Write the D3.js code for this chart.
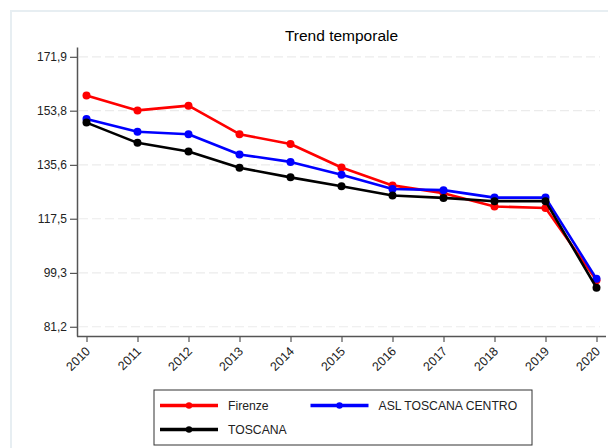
<!DOCTYPE html>
<html>
<head>
<meta charset="utf-8">
<script src="https://cdn.jsdelivr.net/npm/d3@7/dist/d3.min.js"></script>
<style>
  html, body { margin: 0; padding: 0; background: #fff; }
  svg { display: block; font-family: "Liberation Sans", Arial, sans-serif; }
</style>
</head>
<body>
<svg id="chart" width="608" height="448"></svg>
<script>
const years = ["2010","2011","2012","2013","2014","2015","2016","2017","2018","2019","2020"];
const firenze = [158.9, 153.9, 155.5, 145.9, 142.6, 134.7, 128.7, 126.1, 121.6, 121.1, 96.8];
const aslCentro = [151.0, 146.7, 145.9, 139.1, 136.6, 132.3, 127.5, 127.1, 124.6, 124.6, 97.3];
const toscana = [149.8, 143.0, 140.1, 134.6, 131.4, 128.4, 125.3, 124.5, 123.4, 123.4, 94.3];
const yTicks = [81.2, 99.3, 117.5, 135.6, 153.8, 171.9];
const seriesNames = ["Firenze", "ASL TOSCANA CENTRO", "TOSCANA"];
const seriesColors = ["#ff0000", "#0000ff", "#000000"];
const title = "Trend temporale";

const svg = d3.select("#chart");

// outer frame
svg.append("rect")
  .attr("x", 11).attr("y", 11).attr("width", 700).attr("height", 600)
  .attr("fill", "none").attr("stroke", "#e7eef2").attr("stroke-width", 2);

const pLeft = 77, pRight = 606, pTop = 47, pBottom = 336;
const x = d3.scalePoint().domain(years).range([86.5, 596.5]);
const y = d3.scaleLinear().domain([78.1, 175.2]).range([pBottom, pTop]);

// gridlines
svg.append("g").selectAll("line").data(yTicks).join("line")
  .attr("x1", pLeft + 2).attr("x2", 600)
  .attr("y1", d => y(d)).attr("y2", d => y(d))
  .attr("stroke", "#ebebeb").attr("stroke-width", 1.2)
  .attr("stroke-dasharray", "9,4");

// title
svg.append("text")
  .attr("x", (pLeft + pRight) / 2).attr("y", 41)
  .attr("text-anchor", "middle")
  .attr("font-size", 15.5).attr("fill", "#000")
  .text(title);

// y axis
const yAxis = d3.axisLeft(y).tickValues(yTicks).tickSize(7).tickSizeOuter(0)
  .tickFormat(d => d3.format(".1f")(d).replace(".", ","));
const gy = svg.append("g").attr("transform", `translate(${pLeft},0)`).call(yAxis);
gy.select(".domain").attr("stroke", "#555").attr("stroke-width", 1.5);
gy.selectAll(".tick line").attr("stroke", "#555").attr("stroke-width", 1.2);
gy.selectAll(".tick text").attr("font-size", 12).attr("fill", "#222")
  .attr("font-family", "'Liberation Sans', Arial, sans-serif").attr("x", -10);

// x axis
const xAxis = d3.axisBottom(x).tickSize(6).tickSizeOuter(0);
const gx = svg.append("g").attr("transform", `translate(0,${pBottom})`).call(xAxis);
gx.select(".domain").attr("d", `M${pLeft},0.5H${pRight}`).attr("stroke", "#555").attr("stroke-width", 1.5);
gx.selectAll(".tick line").attr("stroke", "#555").attr("stroke-width", 1.2);
gx.selectAll(".tick text")
  .attr("font-size", 12.5).attr("fill", "#222")
  .attr("font-family", "'Liberation Sans', Arial, sans-serif")
  .attr("text-anchor", "end")
  .attr("y", 0).attr("dy", 0)
  .attr("transform", "translate(4,16) rotate(-45)");

// series
const allSeries = [firenze, aslCentro, toscana];
const line = d3.line().x((d, i) => x(years[i])).y(d => y(d));
allSeries.forEach((vals, k) => {
  const g = svg.append("g");
  g.append("path").datum(vals)
    .attr("d", line).attr("fill", "none")
    .attr("stroke", seriesColors[k]).attr("stroke-width", 2.6)
    .attr("stroke-linejoin", "round");
  g.selectAll("circle").data(vals).join("circle")
    .attr("cx", (d, i) => x(years[i])).attr("cy", d => y(d))
    .attr("r", 4).attr("fill", seriesColors[k]);
});

// legend
const lg = svg.append("g");
lg.append("rect").attr("x", 154).attr("y", 390).attr("width", 378).attr("height", 55)
  .attr("fill", "#fff").attr("stroke", "#333").attr("stroke-width", 1);
const legendPos = [[160, 405.5], [310.5, 405.5], [160, 429.5]];
seriesNames.forEach((name, k) => {
  const [lx, ly] = legendPos[k];
  lg.append("line").attr("x1", lx).attr("x2", lx + 58).attr("y1", ly).attr("y2", ly)
    .attr("stroke", seriesColors[k]).attr("stroke-width", 3.5);
  lg.append("circle").attr("cx", lx + 29).attr("cy", ly).attr("r", 3.2).attr("fill", seriesColors[k]);
  lg.append("text").attr("x", lx + 68).attr("y", ly + 4.5)
    .attr("font-size", 12.2).attr("fill", "#222").text(name);
});
</script>
</body>
</html>
